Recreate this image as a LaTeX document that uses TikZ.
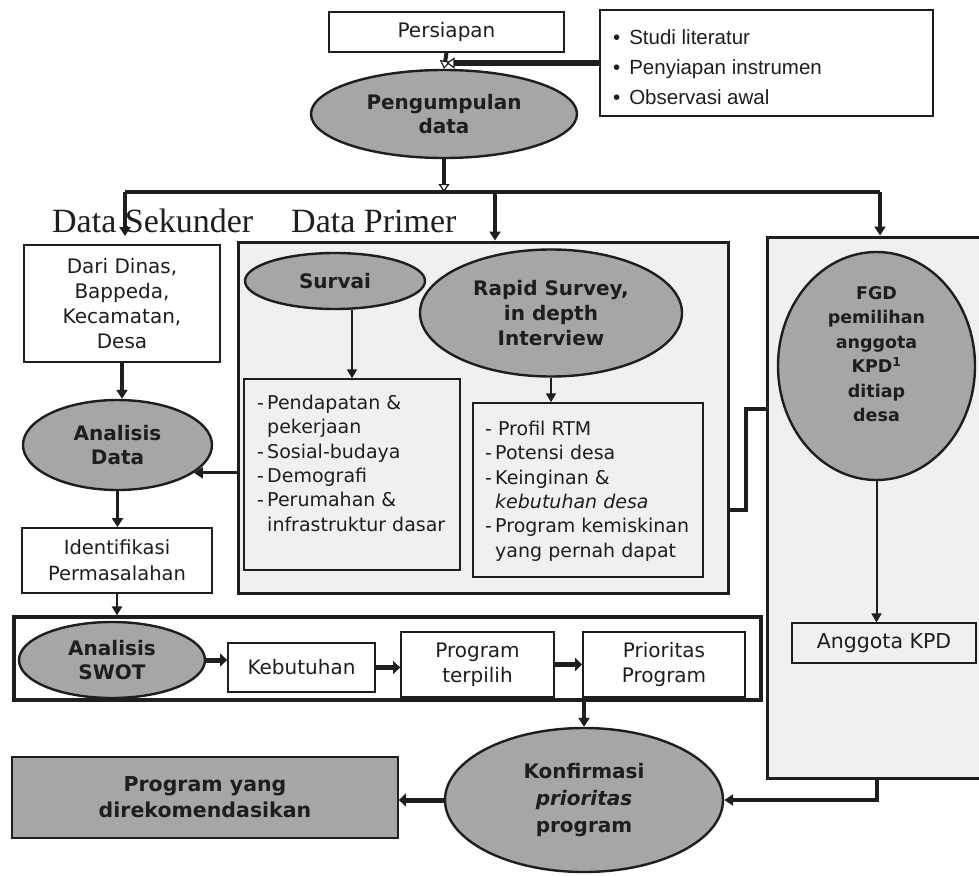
\documentclass[tikz,border=0pt]{standalone}
\usepackage{fontspec}
\setmainfont{DejaVu Sans}
\newfontfamily\arialf{Liberation Sans}
\newfontfamily\serff{Liberation Serif}
\usetikzlibrary{shapes.geometric,arrows.meta,calc}
\definecolor{ellgray}{HTML}{A6A6A6}
\definecolor{panel}{HTML}{EFF0EF}
\definecolor{ink}{HTML}{1E1E1E}
\tikzset{
  base/.style={text=ink, align=center, inner sep=0pt},
  wbox/.style={base, draw=ink, line width=1.8pt, fill=white, font=\fontsize{20}{25}\selectfont},
  pbox/.style={base, draw=ink, line width=1.5pt, fill=panel},
  ell/.style={base, ellipse, draw=ink, line width=2.4pt, fill=ellgray, font=\bfseries\fontsize{20}{24}\selectfont},
  panelbox/.style={draw=ink, line width=3pt, fill=panel, inner sep=0pt},
  arrA/.style={draw=ink, line width=3.2pt, -{Triangle[length=9pt,width=11pt]}},
  arrB/.style={draw=ink, line width=2pt, -{Triangle[length=9pt,width=10pt]}},
  arrC/.style={draw=ink, line width=5pt, -{Triangle[length=7pt,width=13pt]}},
  arrO/.style={draw=ink, line width=4pt, -{Triangle[open,fill=white,line width=1.2pt,length=8pt,width=11pt]}},
  conn/.style={draw=ink, line width=3.5pt},
  listtxt/.style={font=\fontsize{19}{24.3}\selectfont, align=left},
}
\begin{document}
\begin{tikzpicture}[x=1pt,y=-1pt]
\useasboundingbox (0,0) rectangle (979,875);
\clip (0,0) rectangle (979,875);

% panels
\node[panelbox, minimum width=490pt, minimum height=351pt] (dpc) at (483,417.5) {};
\node[panelbox, minimum width=225pt, minimum height=541pt] (fgdc) at (879.5,507.5) {};
\node[draw=ink, line width=3.2pt, fill=white, inner sep=0pt, minimum width=747pt, minimum height=83pt] (swotc) at (387.5,658.5) {};

% top
\node[wbox, minimum width=235pt, minimum height=40pt] (pers) at (446.5,32) {Persiapan};
\node[base, draw=ink, line width=2.2pt, fill=white, minimum width=333pt, minimum height=106pt] (bul) at (766.5,63) {};
\node[base, anchor=west, align=left, font=\arialf\fontsize{20.5}{30}\selectfont] (bultxt) at ([yshift=-4pt]bul.west) {\hspace*{14pt}\textbullet\hspace{9pt}Studi literatur\\
\hspace*{14pt}\textbullet\hspace{9pt}Penyiapan instrumen\\
\hspace*{14pt}\textbullet\hspace{9pt}Observasi awal};
\node[ell, minimum width=266pt, minimum height=88pt] (peng) at (444,114) {Pengumpulan\\data};

% labels
\node[base, anchor=base west, font=\serff\fontsize{34}{36}\selectfont] (dsek) at (52,232) {Data Sekunder};
\node[base, anchor=base west, font=\serff\fontsize{34}{36}\selectfont] (dprim) at (291,232) {Data Primer};

% left column
\node[wbox, minimum width=196pt, minimum height=117pt] (dari) at (122,303.5) {Dari Dinas,\\Bappeda,\\Kecamatan,\\Desa};
\node[ell, minimum width=189pt, minimum height=90pt] (anal) at (117.5,445) {Analisis\\Data};
\node[wbox, minimum width=190pt, minimum height=65pt, font=\fontsize{19.5}{26}\selectfont] (ident) at (117,560.5) {Identifikasi\\Permasalahan};

% data primer content
\node[ell, minimum width=180pt, minimum height=56pt] (survai) at (335,281) {Survai};
\node[ell, minimum width=262pt, minimum height=127pt, font=\bfseries\fontsize{20}{25}\selectfont] (rapid) at (551,313) {Rapid Survey,\\in depth\\Interview};
\node[pbox, minimum width=216pt, minimum height=191pt] (llist) at (352,474.5) {};
\node[base, listtxt, anchor=north west] (lltxt) at (257,395) {-\,Pendapatan \&\\\hphantom{-\,}pekerjaan\\-\,Sosial-budaya\\-\,Demografi\\-\,Perumahan \&\\\hphantom{-\,}infrastruktur dasar};
\node[pbox, minimum width=230pt, minimum height=174pt] (rlist) at (588,490) {};
\node[base, listtxt, anchor=north west] (rltxt) at (485,421) {-\ Profil RTM\\-\,Potensi desa\\-\,Keinginan \&\\\hphantom{-\,}\textit{kebutuhan desa}\\-\,Program kemiskinan\\\hphantom{-\,}yang pernah dapat};

% FGD column
\node[base, ellipse, draw=ink, line width=2.4pt, fill=ellgray, minimum width=197pt, minimum height=228pt] (fgd) at (876.5,366) {};
\node[base, font=\bfseries\fontsize{17.5}{24.5}\selectfont] (fgdtxt) at (876.5,354) {FGD\\pemilihan\\anggota\\KPD\textsuperscript{1}\\ditiap\\desa};
\node[pbox, line width=1.3pt, minimum width=184pt, minimum height=40pt, font=\fontsize{20.5}{24}\selectfont] (angg) at (884,643) {Anggota KPD};

% SWOT row
\node[ell, minimum width=186pt, minimum height=76pt] (swot) at (112,660) {Analisis\\SWOT};
\node[wbox, minimum width=147pt, minimum height=49pt] (keb) at (301.5,667.5) {Kebutuhan};
\node[wbox, minimum width=153pt, minimum height=65pt] (progt) at (477.5,664.5) {Program\\terpilih};
\node[wbox, minimum width=162pt, minimum height=65pt] (prio) at (664,664.5) {Prioritas\\Program};

% bottom
\node[ell, minimum width=278pt, minimum height=144pt, font=\bfseries\fontsize{20}{27}\selectfont] (konf) at (584,800) {Konfirmasi\\\textit{prioritas}\\program};
\node[base, draw=ink, line width=1.8pt, fill=ellgray, minimum width=386pt, minimum height=81pt, font=\bfseries\fontsize{20.5}{26}\selectfont] (progy) at (205,797.5) {Program yang\\direkomendasikan};

% connectors
\coordinate (pa) at (446.5,63);
\draw[arrO] (pers.south) -- (peng.north);
\draw[arrO, line width=5pt] (bul.west) -- (pa);
\coordinate (hl) at (125,192);
\coordinate (hr) at (880,192);
\coordinate (hm) at (444,192);
\coordinate (dpa) at (495,192);
\coordinate (ds) at (125,236);
\draw[arrO] (peng.south) -- (hm);
\draw[conn] (hl) -- (hr);
\draw[arrA] (hl) -- (ds);
\draw[arrA] (dpa) -- (dpa |- dpc.north);
\draw[arrA] (hr) -- (hr |- fgdc.north);

\draw[arrA] (dari.south) -- (dari.south |- anal.north);
\draw[arrA] (anal.south) -- (anal.south |- ident.north);
\draw[arrB, line width=2.6pt] (ident.south) -- (ident.south |- swotc.north);
\draw[arrA] (dpc.west |- anal.-20) -- (anal.-20);

\draw[arrB] (survai.south -| llist.north) -- (llist.north);
\draw[arrB] (rapid.south) -- (rapid.south |- rlist.north);
\coordinate (c1) at (746,510);
\coordinate (c2) at (746,409);
\draw[conn, line cap=rect] (dpc.east |- c1) -- (c1) -- (c2) -- (c2 -| fgdc.west);

\draw[arrB] (fgd.south) -- (fgd.south |- angg.north);

\draw[arrC] (swot.east) -- (swot.east -| keb.west);
\draw[arrC] (keb.east) -- (keb.east -| progt.west);
\draw[arrC] (progt.east) -- (progt.east -| prio.west);

\draw[arrA] (konf.north |- swotc.south) -- (konf.north);
\coordinate (fk) at (877,800);
\draw[arrA] (fgdc.south -| fk) -- (fk) -- (konf.east);
\draw[arrC] (konf.west) -- (konf.west -| progy.east);
\end{tikzpicture}
\end{document}
